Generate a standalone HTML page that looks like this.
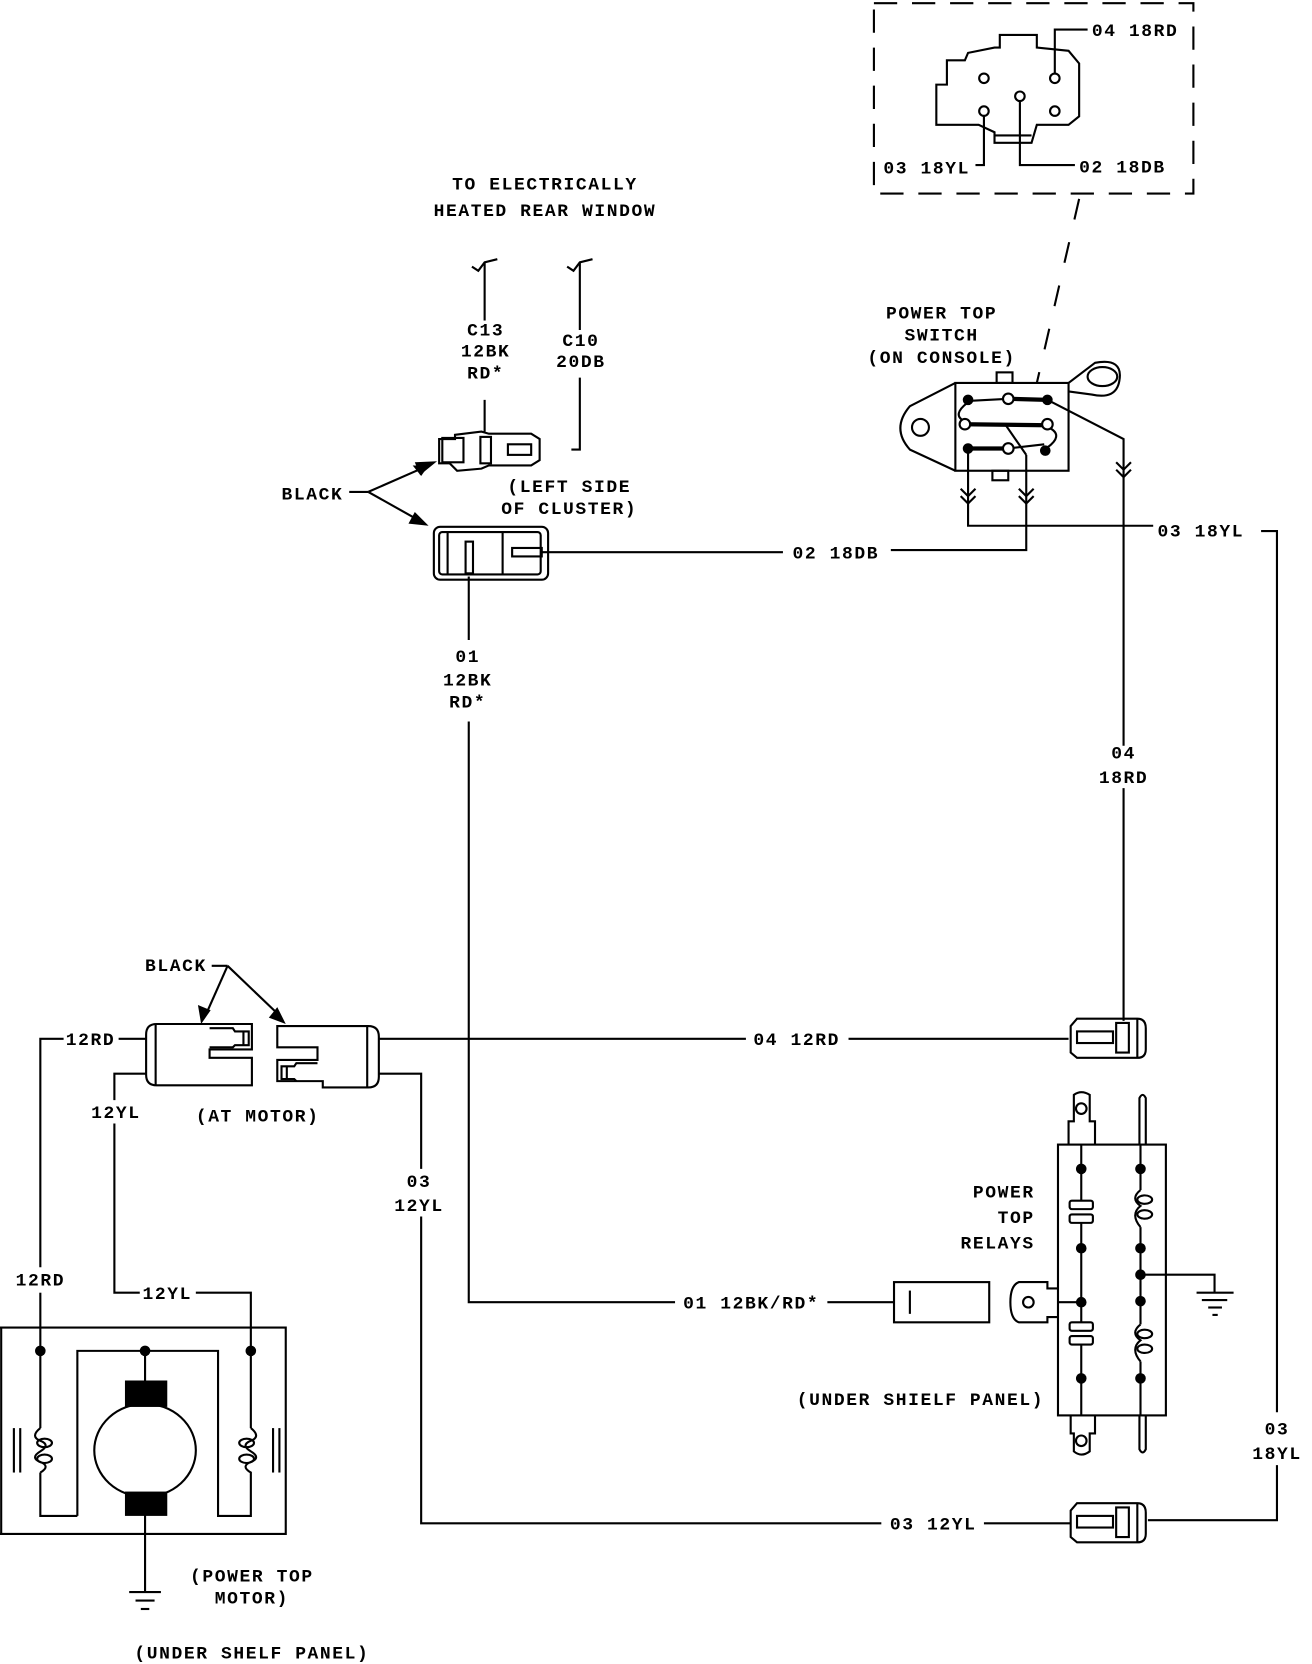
<!DOCTYPE html>
<html><head><meta charset="utf-8"><style>
html,body{margin:0;padding:0;background:#fff;}
svg{display:block;}
text{font-family:"Liberation Mono",monospace;font-size:17px;font-weight:bold;fill:#000;letter-spacing:1.5px;}
</style></head><body>
<svg width="1312" height="1664" viewBox="0 0 1240 1573" xmlns="http://www.w3.org/2000/svg">
<g fill="none" stroke="#000" stroke-width="2">
<!-- dashed detail box -->
<rect x="826" y="3" width="302" height="180" stroke-dasharray="22,14"/>
<line x1="1020" y1="188" x2="980" y2="362" stroke-dasharray="20,22"/>
<!-- connector face -->
<path d="M885,118 L885,80 L895,80 L895,57 L912,57 L915,50 L940,45 L945,45 L945,33 L980,33 L980,45 L1010,48 L1020,60 L1020,110 L1010,118 L980,118 L975,135 L940,135 L940,125 L925,118 Z"/>
<line x1="940" y1="128" x2="975" y2="128"/>
<circle cx="930" cy="74" r="4.5"/><circle cx="997" cy="74" r="4.5"/><circle cx="964" cy="91" r="4.5"/><circle cx="930" cy="105" r="4.5"/><circle cx="997" cy="105" r="4.5"/>
<polyline points="997,70 997,28 1028,28"/>
<polyline points="930,110 930,156 922,156"/>
<polyline points="964,96 964,156 1016,156"/>
<!-- power top switch -->
<rect x="903" y="362" width="107" height="83"/>
<path d="M903,362 L860,384 Q842,405 860,425 L903,445"/>
<circle cx="870" cy="404" r="8"/>
<path d="M1010,362 L1035,343 Q1062,338 1058,360 Q1055,378 1032,373 L1010,370"/>
<ellipse cx="1042" cy="356" rx="14" ry="9"/>
<rect x="942" y="352" width="15" height="10"/><rect x="938" y="445" width="15" height="9"/>
<line x1="915" y1="379" x2="953" y2="377" stroke-width="2"/>
<line x1="953" y1="377" x2="990" y2="378" stroke-width="4"/>
<line x1="912" y1="401" x2="990" y2="402" stroke-width="4"/>
<line x1="915" y1="424" x2="952" y2="424" stroke-width="4"/>
<line x1="952" y1="424" x2="987" y2="420" stroke-width="2"/>
<path d="M914,381 Q900,392 911,398"/><path d="M993,405 Q1005,412 990,423"/>
<line x1="950" y1="401" x2="970" y2="430"/>
<circle cx="953" cy="377" r="5" fill="#fff"/><circle cx="912" cy="401" r="5" fill="#fff"/><circle cx="990" cy="401" r="5" fill="#fff"/><circle cx="953" cy="424" r="5" fill="#fff"/>
<circle cx="915" cy="378" r="4" fill="#000"/><circle cx="990" cy="378" r="4" fill="#000"/><circle cx="915" cy="424" r="4" fill="#000"/><circle cx="988" cy="426" r="4" fill="#000"/>
<!-- wires from switch -->
<polyline points="915,424 915,497 1090,497"/>
<polyline points="970,430 970,520 842,520"/>
<polyline points="990,378 1062,415 1062,705"/>
<path d="M908,462 l7,7 l7,-7 M908,469 l7,7 l7,-7 M963,462 l7,7 l7,-7 M963,469 l7,7 l7,-7 M1055,437 l7,7 l7,-7 M1055,444 l7,7 l7,-7"/>
<line x1="1062" y1="745" x2="1062" y2="965"/>
<polyline points="1192,502 1207,502 1207,1335"/>
<polyline points="1207,1385 1207,1437 1085,1437"/>
<!-- heated window wires -->
<line x1="458" y1="248" x2="458" y2="303"/>
<path d="M446,252 L452,256 L458,248 L470,245"/>
<line x1="548" y1="248" x2="548" y2="312"/>
<path d="M536,252 L542,256 L548,248 L560,245"/>
<line x1="458" y1="378" x2="458" y2="408"/>
<polyline points="548,357 548,425 540,425"/>
<!-- upper cluster connector -->
<path d="M430,411 L455,408 L462,410 L502,410 L510,415 L510,435 L502,440 L462,440 L455,443 L432,445 L425,438 L415,438 L415,415 L430,415 Z"/>
<rect x="418" y="414" width="20" height="23"/>
<rect x="454" y="413" width="10" height="25"/>
<rect x="480" y="420" width="22" height="10"/>
<!-- lower cluster connector -->
<rect x="410" y="498" width="108" height="50" rx="6"/>
<rect x="415" y="503" width="96" height="40" rx="3"/>
<line x1="423" y1="503" x2="423" y2="543"/>
<rect x="440" y="512" width="7" height="30"/>
<line x1="475" y1="503" x2="475" y2="543"/>
<rect x="484" y="518" width="28" height="8"/>
<line x1="512" y1="522" x2="740" y2="522"/>
<line x1="443" y1="545" x2="443" y2="605"/>
<polyline points="443,682 443,1231 638,1231"/>
<line x1="782" y1="1231" x2="845" y2="1231"/>
<!-- BLACK arrows -->
<line x1="330" y1="465" x2="348" y2="465"/>
<line x1="348" y1="465" x2="405" y2="440"/><line x1="348" y1="465" x2="396" y2="492"/>
<line x1="200" y1="913" x2="215" y2="913"/>
<line x1="215" y1="913" x2="195" y2="958"/><line x1="215" y1="913" x2="262" y2="958"/>
<!-- motor connectors -->
<path d="M148,968 L238,968 L238,992 L198,992 L198,1000 L238,1000 L238,1026 L148,1026 Q138,1026 138,1016 L138,978 Q138,968 148,968 Z"/>
<line x1="147" y1="968" x2="147" y2="1026"/>
<path d="M198,972 L220,972 L222,975 L235,975 L235,988 L222,988 L220,990 L198,990"/>
<line x1="230" y1="975" x2="230" y2="988"/>
<path d="M262,970 L348,970 Q358,970 358,980 L358,1018 Q358,1028 348,1028 L305,1028 L305,1022 L262,1022 L262,1002 L300,1002 L300,990 L262,990 Z"/>
<line x1="347" y1="970" x2="347" y2="1028"/>
<path d="M300,1005 L280,1005 L278,1008 L266,1008 L266,1020 L278,1020 L280,1022"/>
<line x1="271" y1="1008" x2="271" y2="1020"/>
<line x1="358" y1="982" x2="705" y2="982"/>
<line x1="802" y1="982" x2="1010" y2="982"/>
<polyline points="358,1015 398,1015 398,1105"/>
<polyline points="398,1150 398,1440 833,1440"/>
<line x1="930" y1="1440" x2="1012" y2="1440"/>
<line x1="112" y1="982" x2="138" y2="982"/>
<polyline points="60,982 38,982 38,1198"/>
<polyline points="138,1015 108,1015 108,1040"/>
<polyline points="108,1062 108,1222 132,1222"/>
<polyline points="185,1222 237,1222 237,1277"/>
<line x1="38" y1="1222" x2="38" y2="1277"/>
<!-- plug connectors right -->
<path d="M1012,970 L1018,963 L1075,963 Q1083,963 1083,972 L1083,992 Q1083,1000 1075,1000 L1018,1000 L1012,995 Z"/>
<rect x="1018" y="975" width="34" height="11"/>
<rect x="1055" y="967" width="12" height="28"/>
<line x1="1075" y1="963" x2="1075" y2="1000"/>
<path d="M1012,1428 L1018,1421 L1075,1421 Q1083,1421 1083,1430 L1083,1450 Q1083,1458 1075,1458 L1018,1458 L1012,1453 Z"/>
<rect x="1018" y="1433" width="34" height="11"/>
<rect x="1055" y="1425" width="12" height="28"/>
<line x1="1075" y1="1421" x2="1075" y2="1458"/>
<!-- motor -->
<polyline points="-2,1255 270,1255 270,1450 -2,1450"/>
<line x1="1" y1="1255" x2="1" y2="1450"/>
<polyline points="73,1433 73,1277 206,1277 206,1433 230,1433 237,1433 237,1400"/>
<polyline points="38,1277 38,1350"/><polyline points="38,1392 38,1433 73,1433"/>
<polyline points="237,1277 237,1350"/>
<path d="M38,1350 Q28,1358 38,1362 Q48,1366 38,1372 Q28,1378 38,1382 Q48,1386 38,1392"/>
<ellipse cx="42" cy="1364" rx="7" ry="4"/><ellipse cx="42" cy="1379" rx="7" ry="4"/>
<path d="M237,1350 Q247,1358 237,1362 Q227,1366 237,1372 Q247,1378 237,1382 Q227,1386 237,1392 L237,1400"/>
<ellipse cx="233" cy="1364" rx="7" ry="4"/><ellipse cx="233" cy="1379" rx="7" ry="4"/>
<line x1="13" y1="1350" x2="13" y2="1392"/><line x1="19" y1="1350" x2="19" y2="1392"/>
<line x1="258" y1="1350" x2="258" y2="1392"/><line x1="264" y1="1350" x2="264" y2="1392"/>
<line x1="137" y1="1277" x2="137" y2="1305"/>
<ellipse cx="137" cy="1371" rx="48" ry="44" fill="#fff"/>
<line x1="137" y1="1432" x2="137" y2="1505"/>
<line x1="122" y1="1505" x2="152" y2="1505"/><line x1="128" y1="1513" x2="146" y2="1513"/><line x1="133" y1="1521" x2="141" y2="1521"/>
<!-- relays -->
<rect x="1000" y="1082" width="102" height="256"/>
<path d="M1010,1082 L1010,1060 L1015,1060 L1015,1035 Q1022,1030 1030,1035 L1030,1060 L1035,1060 L1035,1082"/>
<circle cx="1022" cy="1048" r="5"/>
<path d="M1077,1082 L1077,1038 Q1080,1032 1083,1038 L1083,1082"/>
<path d="M1012,1338 L1012,1355 L1015,1355 L1015,1372 Q1022,1378 1030,1372 L1030,1355 L1035,1355 L1035,1338"/>
<circle cx="1022" cy="1362" r="5"/>
<path d="M1077,1338 L1077,1370 Q1080,1376 1083,1370 L1083,1338"/>
<path d="M1000,1218 L990,1218 L990,1212 L963,1212 Q955,1215 955,1231 Q955,1247 963,1250 L990,1250 L990,1245 L1000,1245"/>
<circle cx="1000" cy="1220" r="0"/><circle cx="972" cy="1231" r="5"/>
<rect x="845" y="1212" width="90" height="38"/>
<line x1="860" y1="1220" x2="860" y2="1242"/>
<line x1="1000" y1="1231" x2="1022" y2="1231"/>
<line x1="1022" y1="1082" x2="1022" y2="1135"/><rect x="1011" y="1135" width="22" height="8" rx="2"/><rect x="1011" y="1148" width="22" height="8" rx="2"/>
<line x1="1022" y1="1156" x2="1022" y2="1250"/><rect x="1011" y="1250" width="22" height="8" rx="2"/><rect x="1011" y="1263" width="22" height="8" rx="2"/>
<line x1="1022" y1="1271" x2="1022" y2="1338"/>
<line x1="1078" y1="1082" x2="1078" y2="1125"/>
<path d="M1078,1125 Q1068,1133 1078,1140 Q1068,1148 1078,1160"/>
<ellipse cx="1082" cy="1134" rx="7" ry="4"/><ellipse cx="1082" cy="1148" rx="7" ry="4"/>
<line x1="1078" y1="1160" x2="1078" y2="1252"/>
<path d="M1078,1252 Q1068,1260 1078,1267 Q1068,1275 1078,1287"/>
<ellipse cx="1082" cy="1261" rx="7" ry="4"/><ellipse cx="1082" cy="1275" rx="7" ry="4"/>
<line x1="1078" y1="1287" x2="1078" y2="1338"/>
<polyline points="1078,1205 1148,1205 1148,1222"/>
<line x1="1131" y1="1222" x2="1166" y2="1222"/><line x1="1136" y1="1229" x2="1160" y2="1229"/><line x1="1142" y1="1236" x2="1155" y2="1236"/><line x1="1146" y1="1243" x2="1151" y2="1243"/>
</g>
<g fill="#000">
<polygon points="405,440 390,440 398,450" transform="rotate(0)"/>
<polygon points="413,436 392,437 397,449"/>
<polygon points="405,497 386,495 392,484"/>
<polygon points="190,968 187,950 199,955"/>
<polygon points="270,968 254,962 262,952"/>
<circle cx="38" cy="1277" r="5"/><circle cx="237" cy="1277" r="5"/><circle cx="137" cy="1277" r="5"/>
<rect x="118" y="1305" width="40" height="25"/><rect x="118" y="1410" width="40" height="23"/>
<circle cx="1022" cy="1105" r="5"/><circle cx="1022" cy="1180" r="5"/><circle cx="1022" cy="1231" r="5"/><circle cx="1022" cy="1303" r="5"/>
<circle cx="1078" cy="1105" r="5"/><circle cx="1078" cy="1180" r="5"/><circle cx="1078" cy="1205" r="5"/><circle cx="1078" cy="1230" r="5"/><circle cx="1078" cy="1303" r="5"/>
</g>
<g>
<text x="1032" y="34">04 18RD</text>
<text x="835" y="164">03 18YL</text>
<text x="1020" y="163">02 18DB</text>
<text x="890" y="301" text-anchor="middle">POWER TOP</text>
<text x="890" y="322" text-anchor="middle">SWITCH</text>
<text x="890" y="343" text-anchor="middle">(ON CONSOLE)</text>
<text x="515" y="179" text-anchor="middle">TO ELECTRICALLY</text>
<text x="515" y="204" text-anchor="middle">HEATED REAR WINDOW</text>
<text x="459" y="317" text-anchor="middle">C13</text>
<text x="459" y="337" text-anchor="middle">12BK</text>
<text x="459" y="358" text-anchor="middle">RD*</text>
<text x="549" y="327" text-anchor="middle">C10</text>
<text x="549" y="347" text-anchor="middle">20DB</text>
<text x="266" y="472">BLACK</text>
<text x="538" y="465" text-anchor="middle">(LEFT SIDE</text>
<text x="538" y="486" text-anchor="middle">OF CLUSTER)</text>
<text x="790" y="528" text-anchor="middle">02 18DB</text>
<text x="1135" y="507" text-anchor="middle">03 18YL</text>
<text x="442" y="626" text-anchor="middle">01</text>
<text x="442" y="648" text-anchor="middle">12BK</text>
<text x="442" y="669" text-anchor="middle">RD*</text>
<text x="1062" y="717" text-anchor="middle">04</text>
<text x="1062" y="740" text-anchor="middle">18RD</text>
<text x="137" y="918">BLACK</text>
<text x="62" y="988">12RD</text>
<text x="753" y="988" text-anchor="middle">04 12RD</text>
<text x="86" y="1057">12YL</text>
<text x="185" y="1060">(AT MOTOR)</text>
<text x="396" y="1122" text-anchor="middle">03</text>
<text x="396" y="1145" text-anchor="middle">12YL</text>
<text x="978" y="1132" text-anchor="end">POWER</text>
<text x="978" y="1156" text-anchor="end">TOP</text>
<text x="978" y="1180" text-anchor="end">RELAYS</text>
<text x="38" y="1215" text-anchor="middle">12RD</text>
<text x="158" y="1228" text-anchor="middle">12YL</text>
<text x="710" y="1237" text-anchor="middle">01 12BK/RD*</text>
<text x="870" y="1328" text-anchor="middle">(UNDER SHIELF PANEL)</text>
<text x="1207" y="1356" text-anchor="middle">03</text>
<text x="1207" y="1379" text-anchor="middle">18YL</text>
<text x="882" y="1446" text-anchor="middle">03 12YL</text>
<text x="238" y="1495" text-anchor="middle">(POWER TOP</text>
<text x="238" y="1516" text-anchor="middle">MOTOR)</text>
<text x="238" y="1568" text-anchor="middle">(UNDER SHELF PANEL)</text>
</g>
</svg>
</body></html>
